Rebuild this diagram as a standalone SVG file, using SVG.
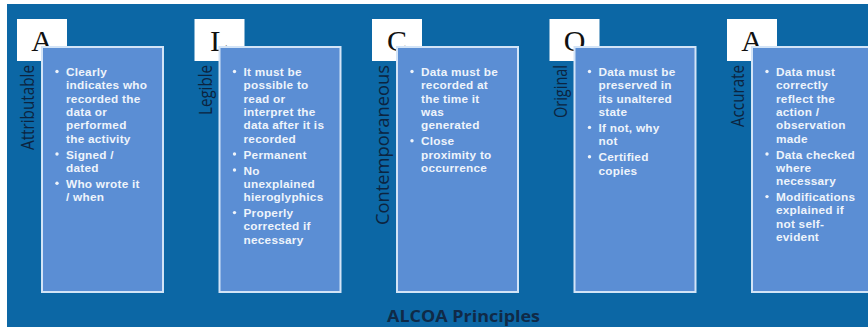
<svg xmlns="http://www.w3.org/2000/svg" width="868" height="327" viewBox="0 0 868 327">
  <style>
    .sq { fill: #ffffff; }
    .box { fill: #5b8ed4; stroke: #d3e4f7; stroke-width: 2; }
    .letter { font-family: "Liberation Serif", "Times New Roman", serif; font-size: 30px; fill: #111111; text-anchor: middle; }
    .label { font-family: "Open Sans", "Liberation Sans", sans-serif; font-size: 18px; fill: #0c2440; text-anchor: end; }
    .item { font-family: "Liberation Sans", Arial, sans-serif; font-size: 11.8px; font-weight: 700; letter-spacing: 0.25px; fill: #eef4fb; }
    .dot { fill: #eef4fb; }
    .title { font-family: "Open Sans", "Liberation Sans", sans-serif; font-size: 16.5px; font-weight: 700; fill: #102a47; text-anchor: middle; }
  </style>

  <!-- page background -->
  <rect x="0" y="0" width="868" height="327" fill="#ffffff"/>
  <rect x="7" y="4" width="861" height="323" fill="#0c67a5"/>

  <!-- Attributable -->
  <g id="col-attributable">
    <rect class="sq" x="17" y="19" width="50" height="42"/>
    <text class="letter" x="42" y="51">A</text>
    <text class="label" transform="translate(34,65) rotate(-90)" textLength="85" lengthAdjust="spacingAndGlyphs">Attributable</text>
    <rect class="box" x="42" y="47" width="121" height="245"/>
    <circle class="dot" cx="57" cy="71.5" r="1.7"/>
    <circle class="dot" cx="57" cy="154" r="1.7"/>
    <circle class="dot" cx="57" cy="183.3" r="1.7"/>
    <text class="item">
      <tspan x="66" y="76">Clearly</tspan>
      <tspan x="66" dy="13.3">indicates who</tspan>
      <tspan x="66" dy="13.3">recorded the</tspan>
      <tspan x="66" dy="13.3">data or</tspan>
      <tspan x="66" dy="13.3">performed</tspan>
      <tspan x="66" dy="13.3">the activity</tspan>
    </text>
    <text class="item">
      <tspan x="66" y="158.5">Signed /</tspan>
      <tspan x="66" dy="13.3">dated</tspan>
    </text>
    <text class="item">
      <tspan x="66" y="187.8">Who wrote it</tspan>
      <tspan x="66" dy="13.3">/ when</tspan>
    </text>
  </g>

  <!-- Legible -->
  <g id="col-legible">
    <rect class="sq" x="194.5" y="19" width="50" height="42"/>
    <text class="letter" x="219.5" y="51">L</text>
    <text class="label" transform="translate(211.5,65) rotate(-90)" textLength="50" lengthAdjust="spacingAndGlyphs">Legible</text>
    <rect class="box" x="219.5" y="47" width="121" height="245"/>
    <circle class="dot" cx="234.5" cy="71.5" r="1.7"/>
    <circle class="dot" cx="234.5" cy="154" r="1.7"/>
    <circle class="dot" cx="234.5" cy="170" r="1.7"/>
    <circle class="dot" cx="234.5" cy="212.6" r="1.7"/>
    <text class="item">
      <tspan x="243.5" y="76">It must be</tspan>
      <tspan x="243.5" dy="13.3">possible to</tspan>
      <tspan x="243.5" dy="13.3">read or</tspan>
      <tspan x="243.5" dy="13.3">interpret the</tspan>
      <tspan x="243.5" dy="13.3">data after it is</tspan>
      <tspan x="243.5" dy="13.3">recorded</tspan>
    </text>
    <text class="item">
      <tspan x="243.5" y="158.5">Permanent</tspan>
    </text>
    <text class="item">
      <tspan x="243.5" y="174.5">No</tspan>
      <tspan x="243.5" dy="13.3">unexplained</tspan>
      <tspan x="243.5" dy="13.3">hieroglyphics</tspan>
    </text>
    <text class="item">
      <tspan x="243.5" y="217.1">Properly</tspan>
      <tspan x="243.5" dy="13.3">corrected if</tspan>
      <tspan x="243.5" dy="13.3">necessary</tspan>
    </text>
  </g>

  <!-- Contemporaneous -->
  <g id="col-contemporaneous">
    <rect class="sq" x="372" y="19" width="50" height="42"/>
    <text class="letter" x="397" y="51">C</text>
    <text class="label" transform="translate(389,65) rotate(-90)" textLength="160" lengthAdjust="spacingAndGlyphs">Contemporaneous</text>
    <rect class="box" x="397" y="47" width="121" height="245"/>
    <circle class="dot" cx="412" cy="71.5" r="1.7"/>
    <circle class="dot" cx="412" cy="140.7" r="1.7"/>
    <text class="item">
      <tspan x="421" y="76">Data must be</tspan>
      <tspan x="421" dy="13.3">recorded at</tspan>
      <tspan x="421" dy="13.3">the time it</tspan>
      <tspan x="421" dy="13.3">was</tspan>
      <tspan x="421" dy="13.3">generated</tspan>
    </text>
    <text class="item">
      <tspan x="421" y="145.2">Close</tspan>
      <tspan x="421" dy="13.3">proximity to</tspan>
      <tspan x="421" dy="13.3">occurrence</tspan>
    </text>
  </g>

  <!-- Original -->
  <g id="col-original">
    <rect class="sq" x="549.5" y="19" width="50" height="42"/>
    <text class="letter" x="574.5" y="51">O</text>
    <text class="label" transform="translate(566.5,65) rotate(-90)" textLength="53" lengthAdjust="spacingAndGlyphs">Original</text>
    <rect class="box" x="574.5" y="47" width="121" height="245"/>
    <circle class="dot" cx="589.5" cy="71.5" r="1.7"/>
    <circle class="dot" cx="589.5" cy="127.4" r="1.7"/>
    <circle class="dot" cx="589.5" cy="156.7" r="1.7"/>
    <text class="item">
      <tspan x="598.5" y="76">Data must be</tspan>
      <tspan x="598.5" dy="13.3">preserved in</tspan>
      <tspan x="598.5" dy="13.3">its unaltered</tspan>
      <tspan x="598.5" dy="13.3">state</tspan>
    </text>
    <text class="item">
      <tspan x="598.5" y="131.9">If not, why</tspan>
      <tspan x="598.5" dy="13.3">not</tspan>
    </text>
    <text class="item">
      <tspan x="598.5" y="161.2">Certified</tspan>
      <tspan x="598.5" dy="13.3">copies</tspan>
    </text>
  </g>

  <!-- Accurate -->
  <g id="col-accurate">
    <rect class="sq" x="727" y="19" width="50" height="42"/>
    <text class="letter" x="752" y="51">A</text>
    <text class="label" transform="translate(744,65) rotate(-90)" textLength="62" lengthAdjust="spacingAndGlyphs">Accurate</text>
    <rect class="box" x="752" y="47" width="121" height="245"/>
    <circle class="dot" cx="767" cy="71.5" r="1.7"/>
    <circle class="dot" cx="767" cy="154" r="1.7"/>
    <circle class="dot" cx="767" cy="196.6" r="1.7"/>
    <text class="item">
      <tspan x="776" y="76">Data must</tspan>
      <tspan x="776" dy="13.3">correctly</tspan>
      <tspan x="776" dy="13.3">reflect the</tspan>
      <tspan x="776" dy="13.3">action /</tspan>
      <tspan x="776" dy="13.3">observation</tspan>
      <tspan x="776" dy="13.3">made</tspan>
    </text>
    <text class="item">
      <tspan x="776" y="158.5">Data checked</tspan>
      <tspan x="776" dy="13.3">where</tspan>
      <tspan x="776" dy="13.3">necessary</tspan>
    </text>
    <text class="item">
      <tspan x="776" y="201.1">Modifications</tspan>
      <tspan x="776" dy="13.3">explained if</tspan>
      <tspan x="776" dy="13.3">not self-</tspan>
      <tspan x="776" dy="13.3">evident</tspan>
    </text>
  </g>

  <text id="title" class="title" x="463.5" y="321.5" textLength="153" lengthAdjust="spacingAndGlyphs">ALCOA Principles</text>
</svg>
